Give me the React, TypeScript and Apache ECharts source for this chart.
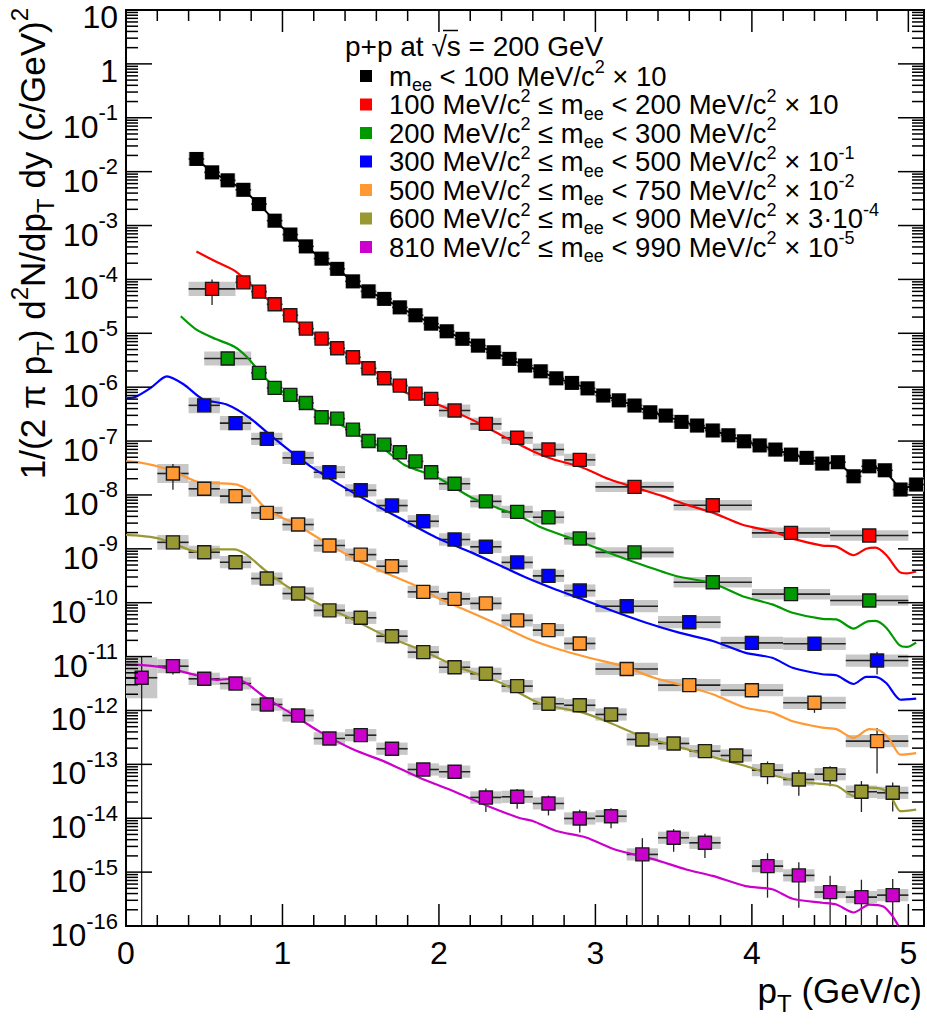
import React, { useEffect, useRef } from "react";
import * as echarts from "echarts";

const FONT = "'Liberation Sans', Arial, Helvetica, sans-serif";

// ---------------- axes ----------------
const X_MIN = 0;
const X_MAX = 5.1;
const Y_MIN = 1e-16;
const Y_MAX = 10;
const xTickLabels = [0, 1, 2, 3, 4, 5];
const yTickExponents = [-16, -15, -14, -13, -12, -11, -10, -9, -8, -7, -6, -5, -4, -3, -2, -1, 0, 1];
const yMinorMultipliers = [2, 3, 4, 5, 6, 7, 8, 9];

// ---------------- m_ee < 100 MeV/c^2 (x10) ----------------
const blackX = [0.45, 0.55, 0.65, 0.75, 0.85, 0.95, 1.05, 1.15, 1.25, 1.35, 1.45, 1.55, 1.65, 1.75, 1.85, 1.95, 2.05, 2.15, 2.25, 2.35, 2.45, 2.55, 2.65, 2.75, 2.85, 2.95, 3.05, 3.15, 3.25, 3.35, 3.45, 3.55, 3.65, 3.75, 3.85, 3.95, 4.05, 4.15, 4.25, 4.35, 4.45, 4.55, 4.65, 4.75, 4.85, 4.95, 5.05];
const blackY = [1.72e-2, 9.7e-3, 6.9e-3, 4.6e-3, 2.5e-3, 1.23e-3, 6.8e-4, 4.1e-4, 2.43e-4, 1.57e-4, 9.2e-5, 6.0e-5, 4.35e-5, 3.03e-5, 2.16e-5, 1.51e-5, 1.09e-5, 7.9e-6, 5.9e-6, 4.45e-6, 3.35e-6, 2.52e-6, 1.97e-6, 1.46e-6, 1.2e-6, 9.5e-7, 7.0e-7, 5.7e-7, 4.56e-7, 3.42e-7, 2.97e-7, 2.27e-7, 1.94e-7, 1.57e-7, 1.28e-7, 9.9e-8, 8.3e-8, 6.95e-8, 5.6e-8, 4.88e-8, 3.82e-8, 4.05e-8, 2.22e-8, 3.4e-8, 2.87e-8, 1.26e-8, 1.56e-8];
const blackHalfBin = 0.05;
const blackSys = 0.35;

// ---------------- 100-200 (x10) ----------------
const redX = [0.55, 0.75, 0.85, 0.95, 1.05, 1.15, 1.25, 1.35, 1.45, 1.55, 1.65, 1.75, 1.85, 1.95, 2.1, 2.3, 2.5, 2.7, 2.9, 3.25, 3.75, 4.25, 4.75];
const redXErr = [0.15, 0.05, 0.05, 0.05, 0.05, 0.05, 0.05, 0.05, 0.05, 0.05, 0.05, 0.05, 0.05, 0.05, 0.1, 0.1, 0.1, 0.1, 0.1, 0.25, 0.25, 0.25, 0.25];
const redY = [6.67e-5, 8.8e-5, 5.94e-5, 3.45e-5, 2.16e-5, 1.22e-5, 7.97e-6, 5.27e-6, 3.59e-6, 2.24e-6, 1.46e-6, 1.07e-6, 7.6e-7, 6.07e-7, 3.68e-7, 2.08e-7, 1.15e-7, 6.95e-8, 4.48e-8, 1.41e-8, 6.44e-9, 1.98e-9, 1.77e-9];
const redStat = [0.5, 0.05, 0.05, 0.05, 0.05, 0.05, 0.05, 0.05, 0.05, 0.05, 0.05, 0.05, 0.05, 0.05, 0.08, 0.08, 0.08, 0.08, 0.08, 0.08, 0.1, 0.12, 0.12];
const redSys = [0.35, 0.2, 0.2, 0.2, 0.2, 0.2, 0.2, 0.2, 0.2, 0.2, 0.2, 0.2, 0.2, 0.2, 0.3, 0.3, 0.3, 0.3, 0.3, 0.25, 0.25, 0.25, 0.25];
const redLineX = [0.45, 0.58, 0.7, 0.81, 0.9, 1.0, 1.1, 1.2, 1.3, 1.4, 1.5, 1.6, 1.7, 1.79, 1.99, 2.21, 2.39, 2.6, 2.73, 2.92, 3.09, 3.26, 3.43, 3.58, 3.75, 3.94, 4.13, 4.26, 4.45, 4.54, 4.65, 4.73, 4.79, 4.86, 4.94, 4.99, 5.05];
const redLineY = [3.3e-4, 2.1e-4, 1.41e-4, 7.4e-5, 4.4e-5, 2.7e-5, 1.58e-5, 1.0e-5, 6.5e-6, 4.4e-6, 2.9e-6, 1.86e-6, 1.12e-6, 7.9e-7, 4.8e-7, 2.5e-7, 1.32e-7, 6.5e-8, 4.6e-8, 3.2e-8, 1.95e-8, 1.35e-8, 9.5e-9, 6.6e-9, 4.7e-9, 2.8e-9, 2.1e-9, 1.55e-9, 1.15e-9, 1.1e-9, 7.6e-10, 1.0e-9, 1.05e-9, 7.6e-10, 3.8e-10, 3.5e-10, 3.8e-10];

// ---------------- 200-300 ----------------
const greenX = [0.65, 0.85, 0.95, 1.05, 1.15, 1.25, 1.35, 1.45, 1.55, 1.65, 1.75, 1.85, 1.95, 2.1, 2.3, 2.5, 2.7, 2.9, 3.25, 3.75, 4.25, 4.75];
const greenXErr = [0.15, 0.05, 0.05, 0.05, 0.05, 0.05, 0.05, 0.05, 0.05, 0.05, 0.05, 0.05, 0.05, 0.1, 0.1, 0.1, 0.1, 0.1, 0.25, 0.25, 0.25, 0.25];
const greenY = [3.4e-6, 1.84e-6, 9.7e-7, 7.2e-7, 5.1e-7, 2.77e-7, 2.61e-7, 1.63e-7, 1.0e-7, 8.6e-8, 6.2e-8, 4.2e-8, 2.64e-8, 1.61e-8, 7.6e-9, 4.85e-9, 3.85e-9, 1.55e-9, 8.6e-10, 2.4e-10, 1.44e-10, 1.1e-10];
const greenStat = [0.15, 0.05, 0.05, 0.05, 0.05, 0.05, 0.05, 0.05, 0.05, 0.05, 0.05, 0.05, 0.05, 0.08, 0.08, 0.08, 0.08, 0.08, 0.1, 0.1, 0.15, 0.15];
const greenSys = [0.35, 0.2, 0.2, 0.2, 0.2, 0.2, 0.2, 0.2, 0.2, 0.2, 0.2, 0.2, 0.2, 0.3, 0.3, 0.3, 0.3, 0.3, 0.25, 0.25, 0.25, 0.25];
const greenLineX = [0.35, 0.45, 0.57, 0.69, 0.77, 0.86, 0.95, 1.05, 1.15, 1.25, 1.35, 1.45, 1.55, 1.65, 1.78, 1.99, 2.21, 2.39, 2.52, 2.64, 2.81, 2.98, 3.15, 3.32, 3.52, 3.75, 3.94, 4.13, 4.26, 4.45, 4.54, 4.65, 4.73, 4.79, 4.86, 4.94, 4.99, 5.05];
const greenLineY = [2.07e-5, 1.17e-5, 7.9e-6, 5.7e-6, 3.7e-6, 1.84e-6, 1.02e-6, 6.8e-7, 4.7e-7, 3.2e-7, 2.2e-7, 1.48e-7, 1.02e-7, 7.1e-8, 3.6e-8, 2.1e-8, 8.9e-9, 5.5e-9, 4.0e-9, 2.6e-9, 1.7e-9, 1.12e-9, 7.2e-10, 4.8e-10, 3.1e-10, 2.3e-10, 1.32e-10, 9.3e-11, 6.5e-11, 5.0e-11, 4.9e-11, 3.3e-11, 4.4e-11, 4.6e-11, 3.4e-11, 1.66e-11, 1.51e-11, 1.82e-11];

// ---------------- 300-500 (x10^-1) ----------------
const blueX = [0.5, 0.7, 0.9, 1.1, 1.3, 1.5, 1.7, 1.9, 2.1, 2.3, 2.5, 2.7, 2.9, 3.2, 3.6, 4.0, 4.4, 4.8];
const blueXErr = [0.1, 0.1, 0.1, 0.1, 0.1, 0.1, 0.1, 0.1, 0.1, 0.1, 0.1, 0.1, 0.1, 0.2, 0.2, 0.2, 0.2, 0.2];
const blueY = [4.6e-7, 2.15e-7, 1.1e-7, 4.88e-8, 2.64e-8, 1.22e-8, 6.35e-9, 3.25e-9, 1.49e-9, 1.09e-9, 5.6e-10, 3.15e-10, 1.68e-10, 8.6e-11, 4.35e-11, 1.8e-11, 1.73e-11, 8.45e-12];
const blueStat = [0.2, 0.1, 0.08, 0.08, 0.08, 0.08, 0.08, 0.1, 0.1, 0.1, 0.1, 0.1, 0.12, 0.12, 0.15, 0.25, 0.2, 0.45];
const blueSys = [0.4, 0.35, 0.3, 0.3, 0.3, 0.3, 0.3, 0.3, 0.3, 0.3, 0.3, 0.3, 0.3, 0.3, 0.3, 0.3, 0.3, 0.3];
const blueLineX = [0.0, 0.06, 0.16, 0.26, 0.37, 0.49, 0.64, 0.79, 0.93, 1.1, 1.24, 1.49, 1.79, 1.99, 2.21, 2.39, 2.56, 2.75, 2.92, 3.09, 3.32, 3.54, 3.75, 3.96, 4.13, 4.26, 4.45, 4.54, 4.65, 4.73, 4.79, 4.86, 4.95, 5.05];
const blueLineY = [6.3e-7, 6.6e-7, 9.8e-7, 1.58e-6, 1.12e-6, 6.0e-7, 4.8e-7, 2.7e-7, 1.23e-7, 5.0e-8, 2.6e-8, 9.5e-9, 3.2e-9, 1.58e-9, 8.5e-10, 4.9e-10, 2.9e-10, 1.74e-10, 1.15e-10, 7.4e-11, 4.3e-11, 2.75e-11, 1.95e-11, 1.17e-11, 9.5e-12, 6.2e-12, 4.7e-12, 4.5e-12, 3.1e-12, 4.2e-12, 4.2e-12, 3.2e-12, 1.58e-12, 1.66e-12];

// ---------------- 500-750 (x10^-2) ----------------
const orangeX = [0.3, 0.5, 0.7, 0.9, 1.1, 1.3, 1.5, 1.7, 1.9, 2.1, 2.3, 2.5, 2.7, 2.9, 3.2, 3.6, 4.0, 4.4, 4.8];
const orangeXErr = [0.1, 0.1, 0.1, 0.1, 0.1, 0.1, 0.1, 0.1, 0.1, 0.1, 0.1, 0.1, 0.1, 0.1, 0.2, 0.2, 0.2, 0.2, 0.2];
const orangeY = [2.5e-8, 1.3e-8, 9.5e-9, 4.65e-9, 2.82e-9, 1.15e-9, 7.8e-10, 4.75e-10, 1.59e-10, 1.18e-10, 9.7e-11, 4.7e-11, 3.1e-11, 1.75e-11, 5.9e-12, 2.95e-12, 2.38e-12, 1.39e-12, 2.7e-13];
const orangeStat = [0.5, 0.2, 0.15, 0.1, 0.1, 0.1, 0.1, 0.1, 0.12, 0.12, 0.12, 0.12, 0.12, 0.15, 0.18, 0.2, 0.15, 0.35, 0.75];
const orangeSys = [0.5, 0.4, 0.37, 0.3, 0.3, 0.3, 0.3, 0.3, 0.3, 0.3, 0.3, 0.3, 0.3, 0.3, 0.3, 0.3, 0.3, 0.3, 0.3];
const orangeLineX = [0.0, 0.06, 0.2, 0.32, 0.45, 0.58, 0.71, 0.79, 0.9, 1.09, 1.28, 1.49, 1.71, 1.88, 1.99, 2.21, 2.39, 2.58, 2.77, 2.96, 3.18, 3.37, 3.58, 3.75, 3.96, 4.13, 4.26, 4.45, 4.54, 4.65, 4.75, 4.82, 4.88, 4.95, 5.05];
const orangeLineY = [4.2e-8, 4.1e-8, 3.4e-8, 2.6e-8, 1.78e-8, 1.66e-8, 1.55e-8, 1.17e-8, 5.4e-9, 2.8e-9, 1.29e-9, 5.9e-10, 3.1e-10, 1.9e-10, 1.23e-10, 6.5e-11, 3.8e-11, 2.1e-11, 1.35e-11, 9.5e-12, 6.6e-12, 4.1e-12, 2.8e-12, 2.0e-12, 1.12e-12, 9.1e-13, 6.3e-13, 4.8e-13, 4.5e-13, 3.1e-13, 4.5e-13, 4.2e-13, 2.9e-13, 1.51e-13, 1.62e-13];

// ---------------- 600-900 (x3*10^-4) ----------------
const oliveX = [0.3, 0.5, 0.7, 0.9, 1.1, 1.3, 1.5, 1.7, 1.9, 2.1, 2.3, 2.5, 2.7, 2.9, 3.1, 3.3, 3.5, 3.7, 3.9, 4.1, 4.3, 4.5, 4.7, 4.9];
const oliveXErr = [0.1, 0.1, 0.1, 0.1, 0.1, 0.1, 0.1, 0.1, 0.1, 0.1, 0.1, 0.1, 0.1, 0.1, 0.1, 0.1, 0.1, 0.1, 0.1, 0.1, 0.1, 0.1, 0.1, 0.1];
const oliveY = [1.32e-9, 8.65e-10, 5.64e-10, 2.81e-10, 1.48e-10, 7.2e-11, 5.25e-11, 2.39e-11, 1.21e-11, 6.35e-12, 4.8e-12, 2.83e-12, 1.33e-12, 1.25e-12, 8.43e-13, 2.9e-13, 2.44e-13, 1.76e-13, 1.46e-13, 7.8e-14, 5.24e-14, 6.57e-14, 3.1e-14, 2.97e-14];
const oliveStat = [0.2, 0.15, 0.12, 0.1, 0.1, 0.1, 0.1, 0.1, 0.1, 0.1, 0.1, 0.1, 0.1, 0.1, 0.12, 0.15, 0.15, 0.2, 0.25, 0.45, 0.5, 0.4, 0.58, 0.55];
const oliveSys = [0.37, 0.32, 0.3, 0.3, 0.3, 0.3, 0.3, 0.3, 0.3, 0.3, 0.3, 0.3, 0.3, 0.3, 0.3, 0.3, 0.3, 0.3, 0.3, 0.3, 0.3, 0.3, 0.3, 0.3];
const oliveLineX = [0.0, 0.06, 0.2, 0.32, 0.45, 0.58, 0.69, 0.77, 0.88, 1.03, 1.24, 1.45, 1.66, 1.88, 2.1, 2.39, 2.64, 2.92, 3.07, 3.3, 3.56, 3.77, 3.96, 4.16, 4.35, 4.54, 4.65, 4.75, 4.84, 4.9, 4.95, 5.05];
const oliveLineY = [1.82e-9, 1.78e-9, 1.58e-9, 1.2e-9, 8.9e-10, 9.8e-10, 9.8e-10, 7.8e-10, 4.2e-10, 2.0e-10, 9.3e-11, 4.9e-11, 2.4e-11, 1.35e-11, 6.8e-12, 3.3e-12, 1.38e-12, 9.1e-13, 6.3e-13, 3.3e-13, 2.0e-13, 1.32e-13, 9.3e-14, 6.0e-14, 4.6e-14, 4.0e-14, 2.6e-14, 3.7e-14, 3.4e-14, 2.2e-14, 1.35e-14, 1.45e-14];

// ---------------- 810-990 (x10^-5) ----------------
const magentaX = [0.1, 0.3, 0.5, 0.7, 0.9, 1.1, 1.3, 1.5, 1.7, 1.9, 2.1, 2.3, 2.5, 2.7, 2.9, 3.1, 3.3, 3.5, 3.7, 4.1, 4.3, 4.5, 4.7, 4.9];
const magentaXErr = [0.1, 0.1, 0.1, 0.1, 0.1, 0.1, 0.1, 0.1, 0.1, 0.1, 0.1, 0.1, 0.1, 0.1, 0.1, 0.1, 0.1, 0.1, 0.1, 0.1, 0.1, 0.1, 0.1, 0.1];
const magentaY = [4.05e-12, 6.64e-12, 3.87e-12, 3.17e-12, 1.29e-12, 8.07e-13, 3.02e-13, 3.48e-13, 1.95e-13, 8.03e-14, 7.3e-14, 2.43e-14, 2.5e-14, 1.88e-14, 9.9e-15, 1.09e-14, 2.13e-15, 4.34e-15, 3.5e-15, 1.29e-15, 8.7e-16, 4.26e-16, 3.44e-16, 3.74e-16];
const magentaStat = [1.45, 0.3, 0.2, 0.2, 0.2, 0.2, 0.2, 0.2, 0.2, 0.25, 0.25, 0.46, 0.4, 0.4, 0.45, 0.4, 1.0, 0.45, 0.48, 0.74, 0.75, 1.0, 1.1, 1.0];
const magentaSys = [1.4, 0.35, 0.3, 0.3, 0.3, 0.3, 0.3, 0.3, 0.3, 0.3, 0.3, 0.3, 0.3, 0.3, 0.3, 0.3, 0.3, 0.3, 0.3, 0.3, 0.3, 0.3, 0.3, 0.3];
const magentaLineX = [0.0, 0.06, 0.2, 0.32, 0.45, 0.58, 0.69, 0.77, 0.88, 1.03, 1.24, 1.45, 1.66, 1.88, 2.09, 2.3, 2.51, 2.6, 2.75, 2.94, 3.13, 3.37, 3.58, 3.75, 3.96, 4.13, 4.26, 4.45, 4.54, 4.65, 4.75, 4.84, 4.9, 4.95, 5.05];
const magentaLineY = [7.2e-12, 7.1e-12, 6.5e-12, 5.6e-12, 4.5e-12, 3.7e-12, 3.9e-12, 3.2e-12, 1.82e-12, 9.8e-13, 4.0e-13, 1.9e-13, 1.1e-13, 5.6e-14, 3.2e-14, 1.74e-14, 1.02e-14, 8.9e-15, 5.8e-15, 4.4e-15, 2.6e-15, 1.74e-15, 1.12e-15, 8.5e-16, 5.5e-16, 4.8e-16, 3.2e-16, 2.7e-16, 2.5e-16, 1.78e-16, 2.5e-16, 2.3e-16, 1.51e-16, 8.9e-17, 5e-17];

// ---------------- legend ----------------
const legendTitle = "p+p at √s = 200 GeV";
const legendLabels = [
  "{m|m}{sub|ee}{m| < 100 MeV/c}{sup|2}{m| × 10}",
  "{m|100 MeV/c}{sup|2}{m| ≤ m}{sub|ee}{m| < 200 MeV/c}{sup|2}{m| × 10}",
  "{m|200 MeV/c}{sup|2}{m| ≤ m}{sub|ee}{m| < 300 MeV/c}{sup|2}",
  "{m|300 MeV/c}{sup|2}{m| ≤ m}{sub|ee}{m| < 500 MeV/c}{sup|2}{m| × 10}{sup|-1}",
  "{m|500 MeV/c}{sup|2}{m| ≤ m}{sub|ee}{m| < 750 MeV/c}{sup|2}{m| × 10}{sup|-2}",
  "{m|600 MeV/c}{sup|2}{m| ≤ m}{sub|ee}{m| < 900 MeV/c}{sup|2}{m| × 3·10}{sup|-4}",
  "{m|810 MeV/c}{sup|2}{m| ≤ m}{sub|ee}{m| < 990 MeV/c}{sup|2}{m| × 10}{sup|-5}",
];
const legendColors = ["#000000", "#ff0000", "#009900", "#0000ff", "#ff9933", "#999933", "#cc00cc"];

type Group = {
  name: string;
  color: string;
  x: number[];
  y: number[];
  xErr: number[];
  stat: number[];
  sys: number[];
  lineX: number[];
  lineY: number[];
};

const groups: Group[] = [
  { name: "red", color: legendColors[1], x: redX, y: redY, xErr: redXErr, stat: redStat, sys: redSys, lineX: redLineX, lineY: redLineY },
  { name: "green", color: legendColors[2], x: greenX, y: greenY, xErr: greenXErr, stat: greenStat, sys: greenSys, lineX: greenLineX, lineY: greenLineY },
  { name: "blue", color: legendColors[3], x: blueX, y: blueY, xErr: blueXErr, stat: blueStat, sys: blueSys, lineX: blueLineX, lineY: blueLineY },
  { name: "orange", color: legendColors[4], x: orangeX, y: orangeY, xErr: orangeXErr, stat: orangeStat, sys: orangeSys, lineX: orangeLineX, lineY: orangeLineY },
  { name: "olive", color: legendColors[5], x: oliveX, y: oliveY, xErr: oliveXErr, stat: oliveStat, sys: oliveSys, lineX: oliveLineX, lineY: oliveLineY },
  { name: "magenta", color: legendColors[6], x: magentaX, y: magentaY, xErr: magentaXErr, stat: magentaStat, sys: magentaSys, lineX: magentaLineX, lineY: magentaLineY },
];

function errorRender(params: any, api: any) {
  const x = api.value(0);
  const y = api.value(1);
  const hw = api.value(2);
  const st = api.value(3);
  const sy = api.value(4);
  const c = api.coord([x, y]);
  const l = api.coord([x - hw, y]);
  const r = api.coord([x + hw, y]);
  const top = api.coord([x, y * (1 + sy)]);
  const bot = api.coord([x, y / (1 + sy)]);
  const children: any[] = [
    {
      type: "rect",
      shape: { x: l[0], y: top[1], width: r[0] - l[0], height: bot[1] - top[1] },
      style: { fill: "#c8c8c8" },
    },
    {
      type: "line",
      shape: { x1: l[0], y1: c[1], x2: r[0], y2: c[1] },
      style: { stroke: "#222", lineWidth: 1.6 },
    },
  ];
  if (st > 0) {
    const lowV = y * (1 - st);
    const yb = lowV > Y_MIN ? api.coord([x, lowV])[1] : api.coord([x, Y_MIN])[1];
    const yt = api.coord([x, y * (1 + st)])[1];
    children.push({
      type: "line",
      shape: { x1: c[0], y1: yt, x2: c[0], y2: yb },
      style: { stroke: "#222", lineWidth: 1.3 },
    });
  }
  return { type: "group", children };
}

const yLabelRich = {
  b: { fontSize: 32, lineHeight: 50, fontFamily: FONT, color: "#000" },
  bb: { fontSize: 32, lineHeight: 32, fontFamily: FONT, color: "#000" },
  s: { fontSize: 22, lineHeight: 22, verticalAlign: "top", fontFamily: FONT, color: "#000" },
};

function frameRender(params: any, api: any) {
  const tl = api.coord([X_MIN, Y_MAX]);
  const br = api.coord([X_MAX, Y_MIN]);
  const x0 = tl[0];
  const x1 = br[0];
  const yTop = tl[1];
  const yBot = br[1];
  const children: any[] = [];
  const ln = (a: number, b: number, c: number, d: number) => ({
    type: "line",
    shape: { x1: a, y1: b, x2: c, y2: d },
    style: { stroke: "#000", lineWidth: 1.5 },
  });
  yTickExponents.forEach((e) => {
    const major = Math.pow(10, e);
    const py = api.coord([0, major])[1];
    children.push(ln(x0, py, x0 + 26, py));
    children.push(ln(x1, py, x1 - 26, py));
    if (e < 1) {
      yMinorMultipliers.forEach((m) => {
        const p = api.coord([0, m * major])[1];
        children.push(ln(x0, p, x0 + 12, p));
        children.push(ln(x1, p, x1 - 12, p));
      });
    }
    const plain = e === 1 || e === 0;
    const text = e === 1 ? "{bb|10}" : e === 0 ? "{bb|1}" : "{b|10}{s|" + e + "}";
    children.push({
      type: "text",
      x: x0 - 8,
      y: py + (plain ? 7 : 9),
      style: {
        text,
        rich: yLabelRich,
        align: "right",
        verticalAlign: "middle",
        fill: "#000",
        fontFamily: FONT,
        fontSize: 32,
      },
    });
  });
  for (let i = 0; i <= 25; i++) {
    const v = i * 0.2;
    const px = api.coord([v, 1])[0];
    const len = i % 5 === 0 ? 22 : 11;
    children.push(ln(px, yBot, px, yBot - len));
    children.push(ln(px, yTop, px, yTop + len));
  }
  return { type: "group", children };
}

function buildOption() {
  const series: any[] = [];
  series.push({
    type: "custom",
    name: "black-err",
    renderItem: errorRender,
    data: blackX.map((x, i) => [x, blackY[i], blackHalfBin, 0, blackSys]),
    encode: { x: 0, y: 1 },
    z: 1,
    silent: true,
  });
  groups.forEach((g) => {
    series.push({
      type: "custom",
      name: g.name + "-err",
      renderItem: errorRender,
      data: g.x.map((x, i) => [x, g.y[i], g.xErr[i], g.stat[i], g.sys[i]]),
      encode: { x: 0, y: 1 },
      clip: true,
      z: 1,
      silent: true,
    });
  });
  series.push({
    type: "line",
    name: "black-line",
    data: blackX.map((x, i) => [x, blackY[i]]),
    showSymbol: false,
    lineStyle: { color: "#000", width: 2 },
    z: 2,
    silent: true,
  });
  groups.forEach((g) => {
    series.push({
      type: "line",
      name: g.name + "-cocktail",
      data: g.lineX.map((x, i) => [x, g.lineY[i]]),
      showSymbol: false,
      smooth: 0.25,
      clip: true,
      lineStyle: { color: g.color, width: 2.2 },
      z: 2,
      silent: true,
    });
  });
  series.push({
    type: "scatter",
    name: "black",
    data: blackX.map((x, i) => [x, blackY[i]]),
    symbol: "rect",
    symbolSize: 14,
    itemStyle: { color: "#000", opacity: 1 },
    z: 3,
    silent: true,
  });
  groups.forEach((g) => {
    series.push({
      type: "scatter",
      name: g.name,
      data: g.x.map((x, i) => [x, g.y[i]]),
      symbol: "rect",
      symbolSize: 13,
      itemStyle: { color: g.color, borderColor: "#1a1a1a", borderWidth: 1.4, opacity: 1 },
      z: 3,
      silent: true,
    });
  });
  series.push({
    type: "custom",
    name: "frame",
    renderItem: frameRender,
    data: [[2.5, 1e-6]],
    encode: { x: 0, y: 1 },
    z: 4,
    silent: true,
    clip: false,
  });

  const legendRich = {
    m: { fontSize: 27.5, lineHeight: 36, fontFamily: FONT, color: "#000" },
    sup: { fontSize: 18, lineHeight: 18, verticalAlign: "top", fontFamily: FONT, color: "#000" },
    sub: { fontSize: 18, lineHeight: 18, verticalAlign: "bottom", fontFamily: FONT, color: "#000" },
  };
  const titleRich = {
    m: { fontSize: 35, lineHeight: 50, fontFamily: FONT, color: "#000" },
    sup: { fontSize: 24, lineHeight: 24, verticalAlign: "top", fontFamily: FONT, color: "#000" },
    sub: { fontSize: 24, lineHeight: 24, verticalAlign: "bottom", fontFamily: FONT, color: "#000" },
  };

  const graphics: any[] = [
    {
      type: "text",
      x: 32,
      y: 8,
      rotation: Math.PI / 2,
      style: {
        text: "{m|1/(2 π p}{sub|T}{m|) d}{sup|2}{m|N/dp}{sub|T}{m| dy (c/GeV)}{sup|2}",
        rich: titleRich,
        align: "right",
        verticalAlign: "middle",
        fontFamily: FONT,
        fontSize: 35,
        fill: "#000",
      },
    },
    {
      type: "text",
      x: 922,
      y: 990,
      style: {
        text: "{m|p}{sub|T}{m| (GeV/c)}",
        rich: titleRich,
        align: "right",
        verticalAlign: "middle",
        fontFamily: FONT,
        fontSize: 35,
        fill: "#000",
      },
    },
    {
      type: "text",
      x: 345,
      y: 46,
      style: {
        text: legendTitle,
        fontFamily: FONT,
        fontSize: 28,
        fill: "#000",
        align: "left",
        verticalAlign: "middle",
      },
    },
    {
      type: "line",
      shape: { x1: 443, y1: 30.5, x2: 458, y2: 30.5 },
      style: { stroke: "#000", lineWidth: 1.5 },
    },
  ];
  legendLabels.forEach((lab, i) => {
    const cy = 76 + 28.5 * i;
    graphics.push({
      type: "rect",
      shape: { x: 360, y: cy - 6, width: 12, height: 12 },
      style: { fill: legendColors[i] },
    });
    graphics.push({
      type: "text",
      x: 389,
      y: cy,
      style: {
        text: lab,
        rich: legendRich,
        align: "left",
        verticalAlign: "middle",
        fontFamily: FONT,
        fontSize: 27.5,
        fill: "#000",
      },
    });
  });

  return {
    animation: false,
    backgroundColor: "#ffffff",
    grid: {
      left: 126,
      right: 2,
      top: 10,
      bottom: 100,
      show: true,
      borderColor: "#000",
      borderWidth: 2,
      backgroundColor: "transparent",
    },
    xAxis: {
      type: "value",
      min: X_MIN,
      max: X_MAX,
      interval: 1,
      axisLine: { show: false },
      axisTick: { show: false },
      splitLine: { show: false },
      axisLabel: {
        fontSize: 32,
        fontFamily: FONT,
        color: "#000",
        margin: 11,
        formatter: (v: number) => (xTickLabels.indexOf(v) >= 0 ? String(v) : ""),
      },
    },
    yAxis: {
      type: "log",
      logBase: 10,
      min: Y_MIN,
      max: Y_MAX,
      axisLine: { show: false },
      axisTick: { show: false },
      splitLine: { show: false },
      axisLabel: { show: false },
      minorTick: { show: false },
    },
    graphic: { elements: graphics },
    series,
  };
}

export default function App() {
  const ref = useRef<HTMLDivElement>(null);
  useEffect(() => {
    const chart = echarts.init(ref.current as HTMLDivElement, null, { renderer: "svg" });
    chart.setOption(buildOption() as any);
    return () => chart.dispose();
  }, []);
  return (
    <div
      ref={ref}
      style={{ position: "fixed", left: 0, top: 0, width: 927, height: 1026, background: "#fff" }}
    />
  );
}
